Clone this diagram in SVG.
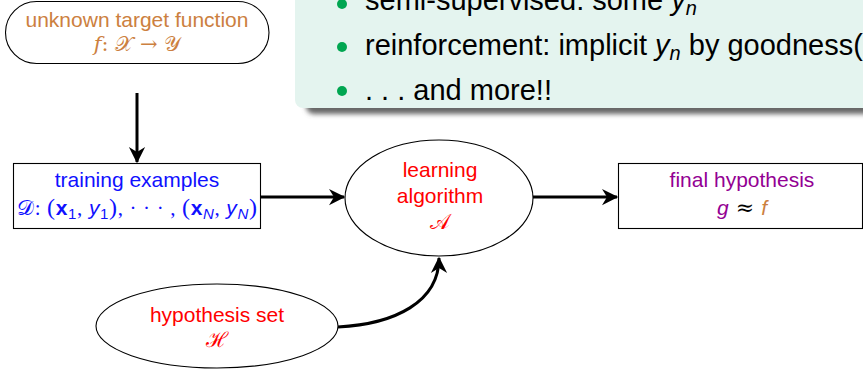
<svg xmlns="http://www.w3.org/2000/svg" width="863" height="369" viewBox="0 0 863 369">
<style>
.node{fill:#fff;stroke:#000;stroke-width:1.1}
.lbl{font-family:"Liberation Sans",Arial,sans-serif;font-size:21px;text-anchor:middle}
.mth{font-family:"DejaVu Serif","Liberation Serif",serif}
.ser{font-family:"Liberation Serif","Times New Roman",serif}
.it{font-style:italic}
.bf{font-weight:bold}
.bul{font-family:"Liberation Sans",Arial,sans-serif;font-size:29px;fill:#000}
.conn{fill:none;stroke:#000;stroke-width:3}
.brown{fill:#cc8040}
.blue{fill:#1010ff}
.red{fill:#ff0000}
.purple{fill:#930093}
</style>
<defs>
<marker id="ah" markerUnits="userSpaceOnUse" markerWidth="20" markerHeight="20" viewBox="-14 -8 16 16" refX="0" refY="0" orient="auto">
<path d="M1,0 L-12,-6.5 L-8,0 L-12,6.5 Z" fill="#000"/>
</marker>
<filter id="sh" x="-5%" y="-50%" width="110%" height="200%">
<feGaussianBlur stdDeviation="2.5"/>
</filter>
</defs>

<g id="panel">
<rect x="306" y="-20" width="580" height="134" rx="8" fill="#666" filter="url(#sh)"/>
<rect x="295" y="-20" width="580" height="128" rx="8" fill="#e4f4ef"/>
<circle cx="342" cy="4" r="5" fill="#00a651"/>
<circle cx="342" cy="47" r="5" fill="#00a651"/>
<circle cx="342" cy="91" r="5" fill="#00a651"/>
<text class="bul" x="365" y="10">semi-supervised: some <tspan class="it">y</tspan><tspan class="it" font-size="20" dy="5">n</tspan></text>
<text class="bul" x="365" y="55">reinforcement: implicit <tspan class="it">y</tspan><tspan class="it" font-size="20" dy="5">n</tspan><tspan dy="-5"> by goodness(</tspan></text>
<text class="bul" x="365" y="100">. . . and more!!</text>
</g>

<g id="target">
<rect class="node" x="5.5" y="1.5" width="263.5" height="62" rx="31"/>
<text class="lbl brown" x="137" y="27">unknown target function</text>
<text class="lbl brown" x="137" y="51"><tspan class="mth it">f</tspan><tspan class="mth">: 𝒳 → 𝒴</tspan></text>
</g>

<g id="training">
<rect class="node" x="13.5" y="163.5" width="247" height="65"/>
<text class="lbl blue" x="137" y="187">training examples</text>
<text class="lbl blue" x="137" y="215" textLength="240" lengthAdjust="spacing"><tspan class="mth">𝒟</tspan><tspan class="ser">: </tspan><tspan class="ser" font-size="24">(</tspan><tspan class="bf">x</tspan><tspan font-size="15" dy="4">1</tspan><tspan class="ser" dy="-4">, </tspan><tspan class="it">y</tspan><tspan font-size="15" dy="4">1</tspan><tspan class="ser" font-size="24" dy="-4">)</tspan><tspan class="ser">, · · · , </tspan><tspan class="ser" font-size="24">(</tspan><tspan class="bf">x</tspan><tspan class="it" font-size="15" dy="4">N</tspan><tspan class="ser" dy="-4">, </tspan><tspan class="it">y</tspan><tspan class="it" font-size="15" dy="4">N</tspan><tspan class="ser" font-size="24" dy="-4">)</tspan></text>
</g>

<g id="learning">
<ellipse class="node" cx="439" cy="198" rx="94" ry="58"/>
<text class="lbl red" x="440" y="177">learning</text>
<text class="lbl red" x="440" y="203">algorithm</text>
<text class="lbl red mth" x="440" y="229">𝒜</text>
</g>

<g id="final">
<rect class="node" x="618.5" y="163.5" width="244" height="65"/>
<text class="lbl purple" x="742" y="187">final hypothesis</text>
<text class="lbl" x="742" y="215"><tspan class="it purple">g</tspan><tspan class="mth" fill="#000" font-size="22"> ≈ </tspan><tspan class="it brown">f</tspan></text>
</g>

<g id="hypothesis">
<ellipse class="node" cx="217" cy="326" rx="121" ry="42"/>
<text class="lbl red" x="217" y="322">hypothesis set</text>
<text class="lbl red mth" x="217" y="347">ℋ</text>
</g>

<g id="connectors">
<path class="conn" d="M137,93 L137,162" marker-end="url(#ah)"/>
<path class="conn" d="M261,197 L344,197" marker-end="url(#ah)"/>
<path class="conn" d="M533,197 L617,197" marker-end="url(#ah)"/>
<path class="conn" d="M338,327 C395,324 439,302 439,258" marker-end="url(#ah)"/>
</g>
</svg>
